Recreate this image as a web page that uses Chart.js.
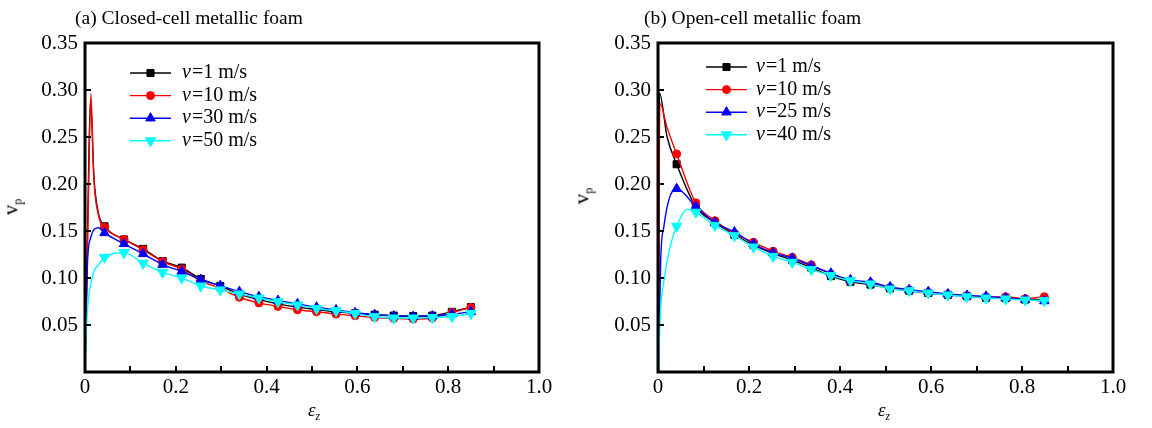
<!DOCTYPE html>
<html>
<head>
<meta charset="utf-8">
<script src="https://cdn.jsdelivr.net/npm/chart.js"></script>
<style>
  body { margin: 0; background: #fff; width: 1152px; height: 428px; position: relative; overflow: hidden;
         font-family: "Liberation Serif", "Times New Roman", serif; color: #000; }
  canvas { position: absolute; top: 0; }
  .lbl { position: absolute; white-space: nowrap; line-height: 1; }
  .title { font-size: 19.5px; }
  .ax { font-size: 19px; transform: translate(-50%, -50%); }
  .ax sub { font-size: 12px; vertical-align: -4px; }
  .yax { font-size: 21px; transform: translate(-50%, -50%) rotate(-90deg); }
</style>
</head>
<body>
<canvas id="chartA" width="576" height="428" style="left:0;width:576px;height:428px"></canvas>
<canvas id="chartB" width="576" height="428" style="left:576px;width:576px;height:428px"></canvas>

<div class="lbl title" style="left:75px;top:8px">(a) Closed-cell metallic foam</div>
<div class="lbl title" style="left:644px;top:8px">(b) Open-cell metallic foam</div>
<div class="lbl ax yax" style="left:12px;top:207px">v<sub>p</sub></div>
<div class="lbl ax yax" style="left:583px;top:196px">v<sub>p</sub></div>
<div class="lbl ax" style="left:314px;top:411px"><i>ε</i><sub><i>z</i></sub></div>
<div class="lbl ax" style="left:884px;top:411px"><i>ε</i><sub><i>z</i></sub></div>

<script>
// axis ticks
const xTickValues = [0, 0.1, 0.2, 0.3, 0.4, 0.5, 0.6, 0.7, 0.8, 0.9, 1.0];
const xTickLabels = ["0", "", "0.2", "", "0.4", "", "0.6", "", "0.8", "", "1.0"];
const yTickValues = [0, 0.05, 0.10, 0.15, 0.20, 0.25, 0.30, 0.35];
const yTickLabels = ["", "0.05", "0.10", "0.15", "0.20", "0.25", "0.30", "0.35"];

// (a) closed-cell foam, marked points
const strainA = [0.043, 0.086, 0.128, 0.171, 0.213, 0.255, 0.298, 0.34, 0.383, 0.425,
                 0.468, 0.51, 0.553, 0.595, 0.638, 0.68, 0.723, 0.765, 0.808, 0.85];
const a_v1  = [0.155, 0.141, 0.131, 0.118, 0.111, 0.099, 0.0915, 0.083, 0.077, 0.0725,
               0.069, 0.0665, 0.064, 0.0625, 0.061, 0.060, 0.0595, 0.060, 0.064, 0.069];
const a_v10 = [0.154, 0.141, 0.130, 0.1175, 0.1095, 0.097, 0.089, 0.0795, 0.0735, 0.0698,
               0.0662, 0.0641, 0.0616, 0.0598, 0.058, 0.057, 0.0563, 0.0574, 0.0634, 0.0687];
const a_v30 = [0.148, 0.1364, 0.1257, 0.1143, 0.107, 0.0983, 0.0919, 0.0855, 0.080, 0.076,
               0.0725, 0.069, 0.066, 0.063, 0.061, 0.0595, 0.059, 0.0595, 0.0615, 0.064];
const a_v50 = [0.122, 0.127, 0.1157, 0.106, 0.100, 0.0915, 0.0873, 0.083, 0.0787, 0.0748,
               0.0713, 0.0676, 0.0652, 0.0623, 0.0588, 0.0574, 0.0574, 0.058, 0.059, 0.0623];
// (a) early strain, no markers
const a_v1_headX  = [0, 0.006, 0.012, 0.02, 0.03];
const a_v1_headY  = [0, 0.16, 0.29, 0.205, 0.168];
const a_v10_headX = [0, 0.007, 0.013, 0.019, 0.03];
const a_v10_headY = [0, 0.17, 0.296, 0.21, 0.166];
const a_v30_headX = [0, 0.005, 0.012, 0.03];
const a_v30_headY = [0, 0.11, 0.142, 0.1535];
const a_v50_headX = [0, 0.004, 0.018, 0.03];
const a_v50_headY = [0, 0.055, 0.104, 0.114];

// (b) open-cell foam, marked points
const strainB = [0.041, 0.083, 0.125, 0.168, 0.21, 0.253, 0.295, 0.337, 0.38, 0.423,
                 0.467, 0.51, 0.552, 0.594, 0.637, 0.679, 0.721, 0.764, 0.807, 0.849];
const b_v1  = [0.221, 0.176, 0.159, 0.146, 0.135, 0.126, 0.119, 0.111, 0.102, 0.096,
               0.093, 0.089, 0.0865, 0.084, 0.082, 0.0805, 0.079, 0.0785, 0.077, 0.077];
const b_v10 = [0.232, 0.18, 0.161, 0.147, 0.138, 0.1285, 0.122, 0.114, 0.104, 0.097,
               0.0945, 0.0895, 0.087, 0.0845, 0.0825, 0.081, 0.0795, 0.080, 0.078, 0.080];
const b_v25 = [0.195, 0.176, 0.159, 0.149, 0.1364, 0.1268, 0.121, 0.113, 0.105, 0.098,
               0.0955, 0.0905, 0.0875, 0.0855, 0.083, 0.0815, 0.0805, 0.079, 0.077, 0.0755];
const b_v40 = [0.155, 0.170, 0.156, 0.145, 0.133, 0.123, 0.1168, 0.109, 0.1026, 0.0972,
               0.0937, 0.0884, 0.0865, 0.084, 0.0819, 0.0801, 0.0787, 0.0777, 0.0766, 0.0759];
// (b) unmarked points
const b_v1_headX  = [0.001, 0.003, 0.02];
const b_v1_headY  = [0, 0.297, 0.25];
const b_v10_headX = [0.001, 0.004, 0.02];
const b_v10_headY = [0, 0.286, 0.26];
const b_v25_headX = [0.001, 0.006, 0.013, 0.025];
const b_v25_headY = [0, 0.12, 0.155, 0.185];
const b_v40_headX = [0.001, 0.005, 0.013, 0.025, 0.065];
const b_v40_headY = [0, 0.06, 0.097, 0.13, 0.173];

Chart.defaults.font.family = '"Liberation Serif", "Times New Roman", serif';
Chart.defaults.font.size = 21;
Chart.defaults.color = "#000";

function buildPoints(headX, headY, xs, ys) {
  const pts = headX.map((x, i) => ({ x, y: headY[i], m: false }));
  xs.forEach((x, i) => pts.push({ x, y: ys[i], m: true }));
  return pts.sort((p, q) => p.x - q.x);
}

function makeSet(label, color, style, size, rot, order, points) {
  return {
    label, data: points, order,
    borderColor: color, backgroundColor: color, borderWidth: 1.4,
    pointStyle: style, pointRotation: rot, markerSize: size,
    pointRadius: c => (c.raw && c.raw.m ? size : 0),
    pointBackgroundColor: color, pointBorderColor: color, pointBorderWidth: 1,
    cubicInterpolationMode: "monotone"
  };
}

// frame, inward tick marks and the legend inside the plot
const decor = {
  id: "decor",
  afterDatasetsDraw(chart, args, o) {
    const { ctx, chartArea: a } = chart;
    const xs = chart.scales.x, ys = chart.scales.y;
    ctx.save();
    ctx.strokeStyle = "#000";
    ctx.lineWidth = 2;
    ctx.beginPath();
    xs.ticks.slice(1, -1).forEach(t => {
      const p = Math.round(xs.getPixelForValue(t.value));
      ctx.moveTo(p, a.bottom); ctx.lineTo(p, a.bottom - 6);
    });
    ys.ticks.slice(1, -1).forEach(t => {
      const p = Math.round(ys.getPixelForValue(t.value));
      ctx.moveTo(a.left, p); ctx.lineTo(a.left + 6, p);
    });
    ctx.stroke();
    ctx.lineWidth = 3;
    ctx.strokeRect(a.left, a.top, a.right - a.left, a.bottom - a.top);

    chart.data.datasets.forEach((ds, i) => {
      const y = a.top + o.top + i * o.gap;
      const x0 = a.left + o.left;
      ctx.strokeStyle = ds.borderColor;
      ctx.fillStyle = ds.borderColor;
      ctx.lineWidth = ds.borderWidth;
      ctx.beginPath(); ctx.moveTo(x0, y); ctx.lineTo(x0 + 41, y); ctx.stroke();
      ctx.lineWidth = 1;
      Chart.helpers.drawPoint(ctx, { pointStyle: ds.pointStyle, radius: ds.markerSize,
        rotation: ds.pointRotation || 0, borderWidth: 1 }, x0 + 20.5, y);
      ctx.fillStyle = "#000";
      ctx.textBaseline = "middle";
      ctx.font = 'italic 20px "Liberation Serif"';
      const tx = x0 + o.text;
      ctx.fillText(ds.label[0], tx, y);
      const w = ctx.measureText(ds.label[0]).width;
      ctx.font = '20px "Liberation Serif"';
      ctx.fillText(ds.label.slice(1), tx + w + 1, y);
    });
    ctx.restore();
  }
};

function makeOptions(yWidth, padRight, legend) {
  return {
    responsive: false,
    animation: false,
    layout: { padding: { left: 0, top: 43, right: padRight, bottom: 0 } },
    plugins: { legend: { display: false }, tooltip: { enabled: false }, decor: legend },
    scales: {
      x: {
        type: "linear", min: 0, max: 1,
        afterBuildTicks: s => { s.ticks = xTickValues.map(v => ({ value: v })); },
        afterFit: s => { s.height = 56; },
        ticks: { callback: (v, i) => xTickLabels[i], padding: 3, autoSkip: false, maxRotation: 0 },
        grid: { display: false, drawTicks: false },
        border: { display: false }
      },
      y: {
        min: 0, max: 0.35,
        afterBuildTicks: s => { s.ticks = yTickValues.map(v => ({ value: v })); },
        afterFit: s => { s.width = yWidth; },
        ticks: { callback: (v, i) => yTickLabels[i], padding: 7, autoSkip: false },
        grid: { display: false, drawTicks: false },
        border: { display: false }
      }
    }
  };
}

new Chart(document.getElementById("chartA"), {
  type: "line",
  data: {
    datasets: [
      makeSet("v=1 m/s", "#000000", "rect", 5, 0, 4, buildPoints(a_v1_headX, a_v1_headY, strainA, a_v1)),
      makeSet("v=10 m/s", "#ff0000", "circle", 4, 0, 3, buildPoints(a_v10_headX, a_v10_headY, strainA, a_v10)),
      makeSet("v=30 m/s", "#0000ff", "triangle", 5.5, 0, 2, buildPoints(a_v30_headX, a_v30_headY, strainA, a_v30)),
      makeSet("v=50 m/s", "#00ffff", "triangle", 6, 180, 1, buildPoints(a_v50_headX, a_v50_headY, strainA, a_v50))
    ]
  },
  options: makeOptions(85, 37, { left: 45, top: 30, gap: 22.6, text: 52 }),
  plugins: [decor]
});

new Chart(document.getElementById("chartB"), {
  type: "line",
  data: {
    datasets: [
      makeSet("v=1 m/s", "#000000", "rect", 5, 0, 4, buildPoints(b_v1_headX, b_v1_headY, strainB, b_v1)),
      makeSet("v=10 m/s", "#ff0000", "circle", 4, 0, 3, buildPoints(b_v10_headX, b_v10_headY, strainB, b_v10)),
      makeSet("v=25 m/s", "#0000ff", "triangle", 5.5, 0, 2, buildPoints(b_v25_headX, b_v25_headY, strainB, b_v25)),
      makeSet("v=40 m/s", "#00ffff", "triangle", 6, 180, 1, buildPoints(b_v40_headX, b_v40_headY, strainB, b_v40))
    ]
  },
  options: makeOptions(82, 39, { left: 48, top: 24, gap: 22.6, text: 50 }),
  plugins: [decor]
});
</script>
</body>
</html>
